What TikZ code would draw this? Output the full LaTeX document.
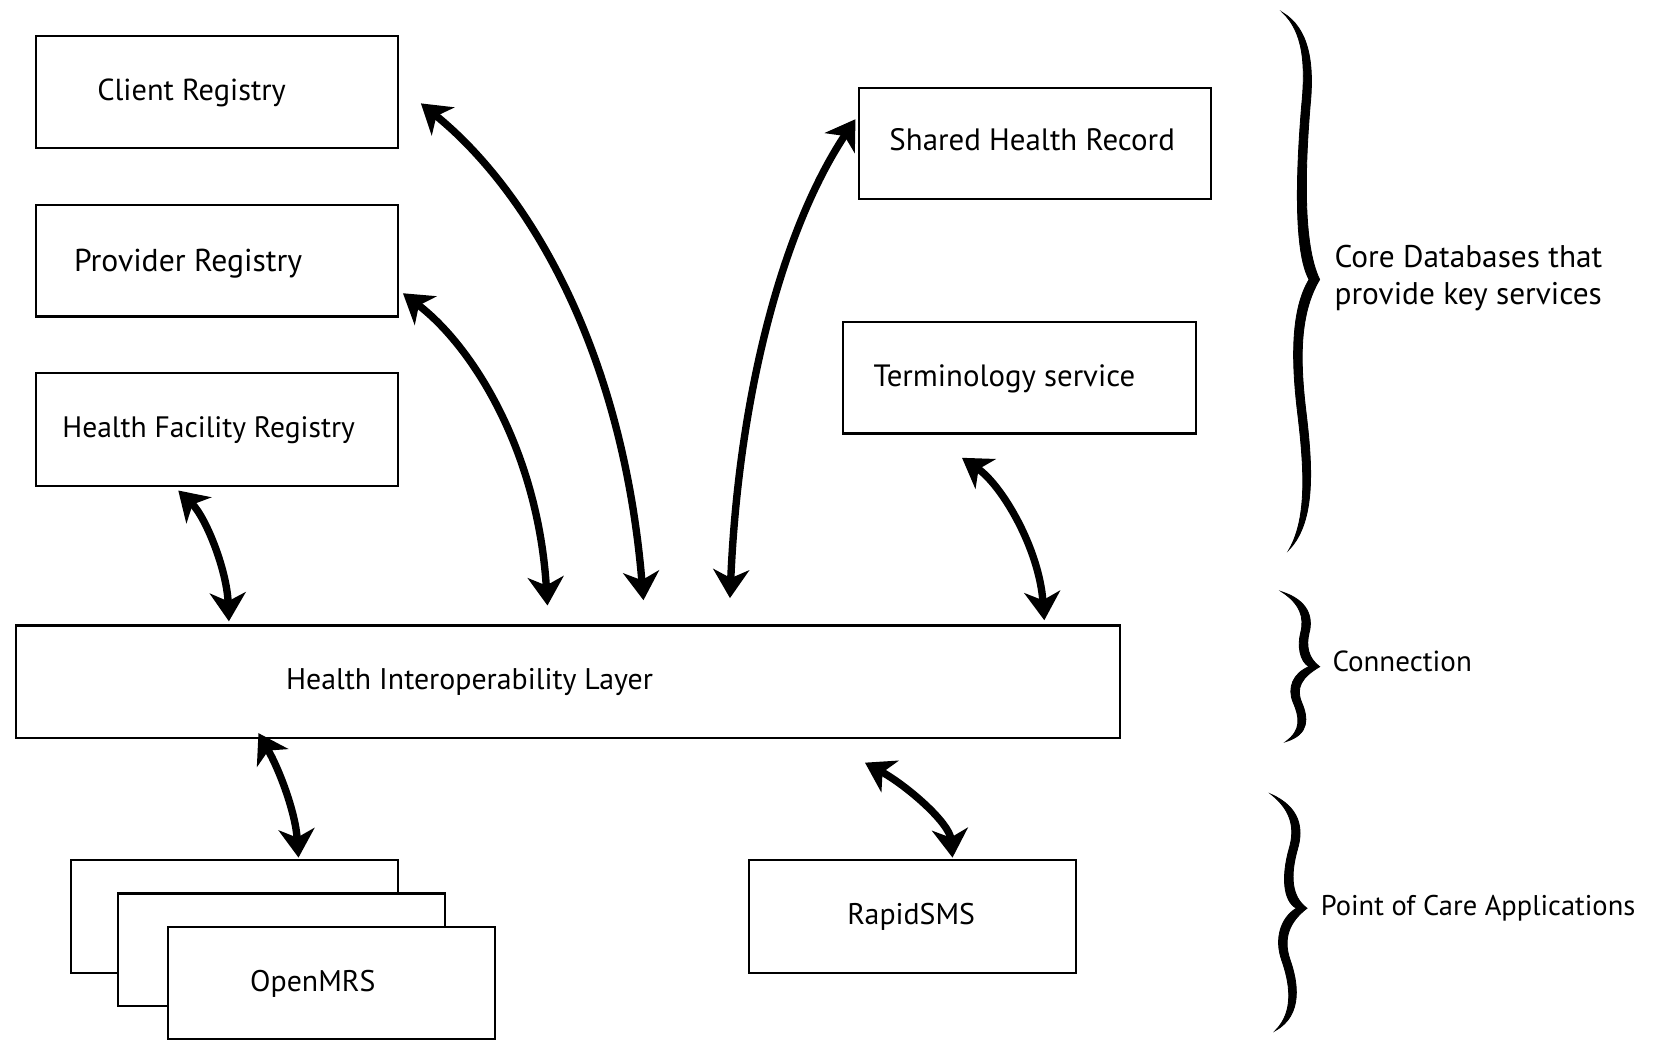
\documentclass[tikz,border=0pt]{standalone}
\usepackage{fontspec}
\setmainfont{PT Sans}
\usetikzlibrary{arrows.meta,calc}
\begin{document}
\begin{tikzpicture}[x=1pt,y=-1pt,
  box/.style={draw, line width=2pt, fill=white, inner sep=0pt},
  txt/.style={font=\fontsize{#1}{35}\selectfont, inner sep=0pt, anchor=base west},
  txt/.default=29,
  link/.style={line width=7pt, <->, >={Stealth[length=27pt,width=34pt,inset=8pt]}},
  bracefill/.style={fill=black, draw=black, line width=0.8pt}]
\fill[white] (0,0) rectangle (1568,986);
\useasboundingbox (0,0) rectangle (1568,986);

% boxes
\node[box, minimum width=343pt, minimum height=106pt] (cr) at (205.5,87) {};
\node[box, minimum width=343pt, minimum height=106pt] (pr) at (205.5,247) {};
\node[box, minimum width=343pt, minimum height=107pt] (hfr) at (205.5,407.5) {};
\node[box, minimum width=334pt, minimum height=106pt] (shr) at (981,136) {};
\node[box, minimum width=335pt, minimum height=106pt] (term) at (966.5,358) {};
\node[box, minimum width=1047pt, minimum height=107pt] (hil) at (538.5,646.5) {};
\node[box, minimum width=310pt, minimum height=107pt] (om1) at (222,868.5) {};
\node[box, minimum width=310pt, minimum height=107pt] (om2) at (267,900.5) {};
\node[box, minimum width=310pt, minimum height=106pt] (om3) at (314,932) {};
\node[box, minimum width=310pt, minimum height=107pt] (rs) at (865,868.5) {};

% texts
\node[txt=28.8] (crt) at (92,95) {Client Registry};
\node[txt=30] (prt) at (70,257) {Provider Registry};
\node[txt=28] (hfrt) at (59,415) {Health Facility Registry};
\node[txt=29.3] (shrt) at (843,143) {Shared Health Record};
\node[txt=29.2] (termt) at (828,366) {Terminology service};
\node[txt=28.3] (hilt) at (271,654) {Health Interoperability Layer};
\node[txt=28.3] (omt) at (237,940) {OpenMRS};
\node[txt=28.3] (rst) at (803,876) {RapidSMS};
\node[txt=29.7, align=left] (core) at (1265,289) {Core Databases that\\provide key services};
\node[txt=27.5] (conn) at (1263,637) {Connection};
\node[txt=27] (poc) at (1252,868) {Point of Care Applications};

% arrow end points
\path (cr.east) ++(21,11) coordinate (crA);
\path (hil.north west) ++(596,-23) coordinate (hilA);
\path (pr.east) ++(4,31) coordinate (prA);
\path (hil.north west) ++(505,-18) coordinate (hilB);
\path (shr.west) ++(-2,-23) coordinate (shrA);
\path (hil.north west) ++(678,-25) coordinate (hilC);
\path (term.south west) ++(114,22) coordinate (termA);
\path (hil.north west) ++(976,-4) coordinate (hilD);
\path (hfr.south west) ++(136,3) coordinate (hfrA);
\path (hil.north west) ++(203,-3) coordinate (hilE);
\path (hil.south west) ++(231,-6) coordinate (hilF);
\path (om1.north west) ++(217,-1) coordinate (omA);
\path (hil.south west) ++(806,22) coordinate (hilG);
\path (rs.north west) ++(194,-1) coordinate (rsA);

% arrows
\draw[link] (crA) .. controls (500,180) and (590,330) .. (hilA);
\draw[link] (prA) .. controls (450,330) and (510,430) .. (hilB);
\draw[link] (hilC) .. controls (700,380) and (740,220) .. (shrA);
\draw[link] (termA) .. controls (950,460) and (985,520) .. (hilD);
\draw[link] (hfrA) .. controls (195,490) and (215,540) .. (hilE);
\draw[link] (hilF) .. controls (265,730) and (280,770) .. (omA);
\draw[link] (hilG) .. controls (860,745) and (900,780) .. (rsA);

% braces
\fill[bracefill] (1216,12) .. controls (1241,27) and (1246,60) .. (1242,100)
  .. controls (1237,160) and (1235,232) .. (1251,265)
  .. controls (1232,297) and (1232,340) .. (1238,390)
  .. controls (1244,440) and (1248,494) .. (1222,521)
  .. controls (1240,490) and (1236,440) .. (1230,390)
  .. controls (1224,340) and (1224,293) .. (1241,265)
  .. controls (1226,238) and (1229,160) .. (1234,100)
  .. controls (1238,60) and (1235,30) .. (1216,12) -- cycle;
\fill[bracefill] (1215,561) .. controls (1240,569) and (1245,585) .. (1241,600)
  .. controls (1238,612) and (1240,624) .. (1251,632)
  .. controls (1234,642) and (1228,652) .. (1234,666)
  .. controls (1240,680) and (1242,696) .. (1219,703)
  .. controls (1234,692) and (1232,680) .. (1226,666)
  .. controls (1220,652) and (1226,638) .. (1241,632)
  .. controls (1232,627) and (1230,612) .. (1233,600)
  .. controls (1237,585) and (1232,572) .. (1215,561) -- cycle;
\fill[bracefill] (1205,753) .. controls (1232,765) and (1236,785) .. (1230,805)
  .. controls (1223,830) and (1224,850) .. (1239,861)
  .. controls (1222,874) and (1216,890) .. (1223,910)
  .. controls (1230,930) and (1236,962) .. (1209,977)
  .. controls (1228,958) and (1222,930) .. (1215,910)
  .. controls (1208,890) and (1214,870) .. (1229,861)
  .. controls (1216,854) and (1215,830) .. (1222,805)
  .. controls (1228,785) and (1224,768) .. (1205,753) -- cycle;
\end{tikzpicture}
\end{document}
